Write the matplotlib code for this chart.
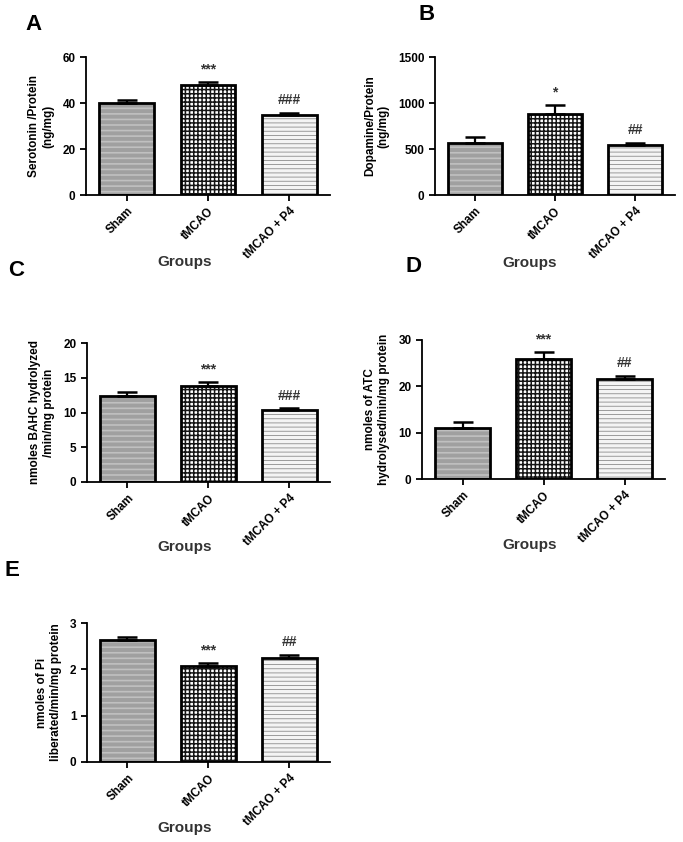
import matplotlib.pyplot as plt
import numpy as np

plt.rcParams['font.family'] = ['Liberation Sans', 'DejaVu Sans']
plt.rcParams['font.weight'] = 'bold'
plt.rcParams['axes.labelweight'] = 'bold'
plt.rcParams['hatch.linewidth'] = 0.9

groups = ['Sham', 'tMCAO', 'tMCAO + P4']

serotonin = [40.0, 48.0, 35.0]
serotonin_err = [1.2, 1.0, 0.8]
dopamine = [560, 885, 545]
dopamine_err = [70, 90, 25]
bahc = [12.4, 13.8, 10.3]
bahc_err = [0.5, 0.6, 0.3]
atc = [11.1, 25.8, 21.5]
atc_err = [1.1, 1.6, 0.8]
pi = [2.64, 2.07, 2.25]
pi_err = [0.05, 0.06, 0.07]

marks = {
    'A': ['', '***', '###'],
    'B': ['', '*', '##'],
    'C': ['', '***', '###'],
    'D': ['', '***', '##'],
    'E': ['', '***', '##'],
}

# (face, hatch, hatch colour, hatch width) per group
styles = [('#a0a0a0', '---', '#c0c0c0', 1.2),
          ('white', '++++', '#151515', 1.1),
          ('#f4f4f4', '----', '#8c8c8c', 0.6)]


def panel(rect, vals, errs, ymax, yticks, ylabel, letter, letter_xy, groups_xy):
    ax = fig.add_axes(rect)
    x = np.arange(len(groups))
    for i in range(len(groups)):
        face, hatch, hc, hw = styles[i]
        plt.rcParams['hatch.linewidth'] = hw
        ax.bar(x[i], vals[i], width=0.67, color=face, hatch=hatch,
               edgecolor=hc, linewidth=0, zorder=2)
        ax.bar(x[i], vals[i], width=0.67, fill=False, edgecolor='black',
               linewidth=2, zorder=3)
    ax.errorbar(x, vals, yerr=[np.zeros(3), errs], fmt='none', ecolor='black',
                elinewidth=1.6, capsize=7, capthick=1.8, zorder=4)
    for i in range(3):
        ax.annotate(marks[letter][i], (x[i], vals[i] + errs[i]),
                    xytext=(0, 4), textcoords='offset points',
                    ha='center', va='bottom', fontsize=10, color='#333333')
    ax.set_xlim(-0.5, 2.5)
    ax.set_ylim(0, ymax)
    ax.set_yticks(yticks)
    ax.set_xticks(x)
    ax.set_xticklabels(groups, rotation=45, ha='right', rotation_mode='anchor',
                       fontsize=8.5)
    ax.tick_params(axis='y', labelsize=8.5, width=1.3, length=4)
    ax.tick_params(axis='x', width=1.3, length=4)
    ax.spines['top'].set_visible(False)
    ax.spines['right'].set_visible(False)
    ax.spines['left'].set_linewidth(1.3)
    ax.spines['bottom'].set_linewidth(1.3)
    ax.set_ylabel(ylabel, fontsize=8.5, labelpad=6)
    fig.text(letter_xy[0] / 683, 1 - letter_xy[1] / 842, letter,
             fontsize=16, ha='left', va='center')
    fig.text(groups_xy[0] / 683, 1 - groups_xy[1] / 842, 'Groups',
             fontsize=11, ha='center', va='center', color='#333333')
    return ax


fig = plt.figure(figsize=(6.83, 8.42), dpi=100)

panel([86 / 683, 1 - 195 / 842, 244 / 683, 138 / 842], serotonin, serotonin_err,
      60, [0, 20, 40, 60], 'Serotonin /Protein\n(ng/mg)', 'A', (25, 24), (185, 262))
panel([435 / 683, 1 - 195 / 842, 240 / 683, 138 / 842], dopamine, dopamine_err,
      1500, [0, 500, 1000, 1500], 'Dopamine/Protein\n(ng/mg)', 'B', (418, 15), (530, 263))
panel([87 / 683, 1 - 482 / 842, 243 / 683, 139 / 842], bahc, bahc_err,
      20, [0, 5, 10, 15, 20], 'nmoles BAHC hydrolyzed\n/min/mg protein', 'C', (8, 270), (185, 547))
panel([422 / 683, 1 - 479 / 842, 243 / 683, 139 / 842], atc, atc_err,
      30, [0, 10, 20, 30], 'nmoles of ATC\nhydrolysed/min/mg protein', 'D', (405, 266), (530, 545))
panel([87 / 683, 1 - 762 / 842, 243 / 683, 139 / 842], pi, pi_err,
      3, [0, 1, 2, 3], 'nmoles of Pi\nliberated/min/mg protein', 'E', (5, 570), (185, 828))

fig.savefig('out.png', dpi=100)
